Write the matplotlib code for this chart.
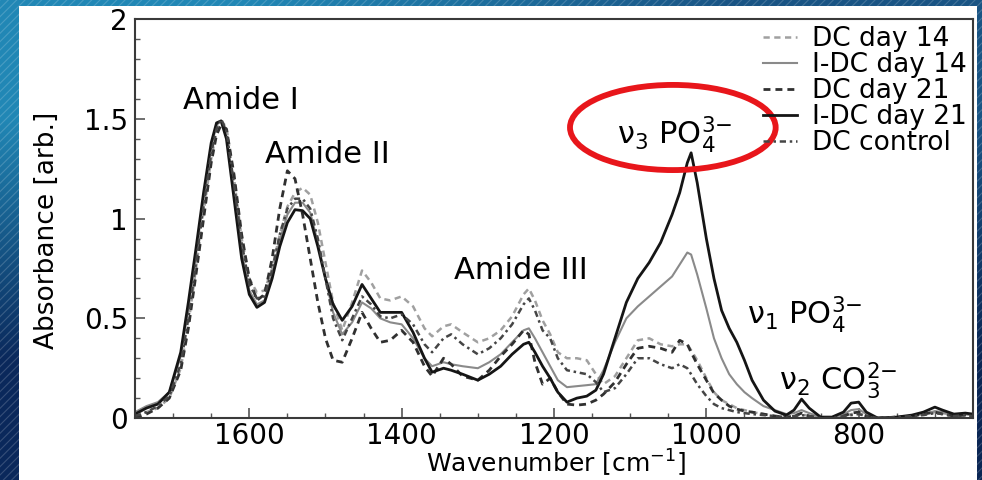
import numpy as np
import matplotlib
matplotlib.use('Agg')
import matplotlib.pyplot as plt
from matplotlib.patches import Ellipse, Rectangle

# wavenumber grid [cm-1] shared by all spectra
wavenumber = [1750, 1735, 1720, 1705, 1690, 1680, 1670, 1660, 1650, 1643, 1637, 1630,
              1620, 1610, 1600, 1590, 1580, 1570, 1560, 1550, 1540, 1530, 1520, 1510,
              1500, 1490, 1478, 1465, 1452, 1440, 1428, 1415, 1400, 1385, 1370, 1360,
              1345, 1335, 1320, 1300, 1285, 1270, 1255, 1240, 1233, 1225, 1215, 1205,
              1195, 1183, 1170, 1157, 1145, 1135, 1120, 1105, 1090, 1075, 1060, 1045,
              1035, 1025, 1020, 1012, 1000, 990, 980, 970, 960, 950, 940, 925,
              910, 895, 885, 875, 865, 850, 835, 820, 810, 800, 790, 775,
              750, 730, 715, 700, 690, 675, 660, 650]

dc_day14 = [0.00, 0.03, 0.05, 0.10, 0.25, 0.47, 0.75, 1.03, 1.30, 1.44, 1.49, 1.46,
            1.20, 0.90, 0.70, 0.63, 0.64, 0.75, 0.92, 1.06, 1.13, 1.155, 1.12, 0.98,
            0.78, 0.58, 0.44, 0.58, 0.74, 0.68, 0.60, 0.59, 0.61, 0.56, 0.45, 0.41,
            0.46, 0.47, 0.43, 0.38, 0.40, 0.44, 0.51, 0.62, 0.65, 0.59, 0.49, 0.42,
            0.33, 0.30, 0.30, 0.29, 0.22, 0.17, 0.21, 0.30, 0.39, 0.40, 0.37, 0.36,
            0.37, 0.37, 0.34, 0.29, 0.20, 0.13, 0.09, 0.07, 0.05, 0.04, 0.03, 0.02,
            0.01, 0.005, 0.01, 0.02, 0.01, 0.0, 0.0, 0.01, 0.02, 0.025, 0.01, 0.0,
            0.005, 0.01, 0.02, 0.03, 0.025, 0.015, 0.02, 0.015]

idc_day14 = [0.03, 0.06, 0.08, 0.13, 0.31, 0.55, 0.82, 1.10, 1.36, 1.47, 1.49, 1.41,
             1.13, 0.84, 0.64, 0.57, 0.59, 0.72, 0.89, 1.02, 1.08, 1.08, 1.03, 0.88,
             0.70, 0.53, 0.42, 0.48, 0.58, 0.55, 0.50, 0.48, 0.47, 0.40, 0.30, 0.26,
             0.28, 0.27, 0.26, 0.25, 0.28, 0.32, 0.38, 0.44, 0.45, 0.40, 0.33, 0.26,
             0.19, 0.155, 0.16, 0.165, 0.17, 0.24, 0.38, 0.50, 0.56, 0.61, 0.66, 0.71,
             0.77, 0.83, 0.82, 0.72, 0.55, 0.40, 0.30, 0.22, 0.17, 0.13, 0.10, 0.06,
             0.04, 0.02, 0.025, 0.04, 0.025, 0.005, 0.005, 0.02, 0.04, 0.045, 0.02, 0.0,
             0.005, 0.01, 0.02, 0.035, 0.03, 0.015, 0.02, 0.015]

dc_day21 = [0.00, 0.02, 0.05, 0.10, 0.24, 0.45, 0.72, 1.00, 1.28, 1.42, 1.47, 1.45,
            1.22, 0.92, 0.70, 0.59, 0.62, 0.80, 1.05, 1.24, 1.20, 1.02, 0.80, 0.58,
            0.40, 0.29, 0.28, 0.40, 0.53, 0.45, 0.38, 0.39, 0.44, 0.38, 0.26, 0.21,
            0.30, 0.27, 0.21, 0.19, 0.24, 0.31, 0.37, 0.44, 0.42, 0.28, 0.17, 0.20,
            0.13, 0.07, 0.065, 0.07, 0.09, 0.12, 0.18, 0.27, 0.35, 0.36, 0.35, 0.33,
            0.39, 0.37, 0.33, 0.27, 0.19, 0.125, 0.09, 0.06, 0.045, 0.035, 0.03, 0.02,
            0.01, 0.005, 0.01, 0.025, 0.01, 0.0, 0.0, 0.01, 0.025, 0.03, 0.01, 0.0,
            0.005, 0.01, 0.02, 0.03, 0.02, 0.01, 0.015, 0.01]

idc_day21 = [0.02, 0.05, 0.07, 0.13, 0.33, 0.58, 0.85, 1.13, 1.38, 1.48, 1.49, 1.40,
             1.10, 0.80, 0.62, 0.555, 0.58, 0.70, 0.86, 0.98, 1.045, 1.04, 1.00, 0.86,
             0.70, 0.57, 0.49, 0.56, 0.67, 0.60, 0.53, 0.53, 0.53, 0.43, 0.30, 0.23,
             0.25, 0.24, 0.22, 0.19, 0.22, 0.26, 0.32, 0.37, 0.38, 0.33, 0.26, 0.20,
             0.13, 0.08, 0.10, 0.11, 0.14, 0.22, 0.40, 0.58, 0.70, 0.78, 0.88, 1.02,
             1.13, 1.28, 1.33, 1.18, 0.90, 0.70, 0.54, 0.45, 0.38, 0.29, 0.19, 0.09,
             0.035, 0.015, 0.04, 0.095, 0.05, 0.005, 0.005, 0.03, 0.075, 0.08, 0.03, 0.0,
             0.005, 0.015, 0.03, 0.055, 0.04, 0.02, 0.025, 0.02]

dc_control = [0.01, 0.03, 0.06, 0.11, 0.27, 0.50, 0.78, 1.06, 1.33, 1.45, 1.50, 1.44,
              1.17, 0.88, 0.67, 0.60, 0.61, 0.74, 0.92, 1.05, 1.10, 1.10, 1.05, 0.90,
              0.70, 0.50, 0.39, 0.50, 0.61, 0.57, 0.51, 0.50, 0.52, 0.47, 0.37, 0.33,
              0.40, 0.42, 0.37, 0.32, 0.35, 0.40, 0.47, 0.57, 0.60, 0.54, 0.44, 0.40,
              0.30, 0.24, 0.23, 0.22, 0.18, 0.13, 0.15, 0.22, 0.30, 0.30, 0.27, 0.25,
              0.27, 0.25, 0.22, 0.17, 0.11, 0.07, 0.05, 0.04, 0.03, 0.025, 0.02, 0.015,
              0.01, 0.005, 0.01, 0.015, 0.01, 0.0, 0.0, 0.01, 0.015, 0.02, 0.01, 0.0,
              0.005, 0.01, 0.015, 0.025, 0.02, 0.01, 0.015, 0.01]

labels = ['DC day 14', 'I-DC day 14', 'DC day 21', 'I-DC day 21', 'DC control']
yticks = [0, 0.5, 1, 1.5, 2]
ytick_labels = ['0', '0.5', '1', '1.5', '2']
xticks = [1600, 1400, 1200, 1000, 800]

plt.rcParams['font.family'] = 'DejaVu Sans'
plt.rcParams['mathtext.fontset'] = 'dejavusans'
plt.rcParams['hatch.linewidth'] = 0.8

fig = plt.figure(figsize=(9.82, 4.8), dpi=100)

# blue patterned frame around the slide picture
bg = fig.add_axes([0, 0, 1, 1], zorder=-10)
grad = np.array([[[0.13, 0.53, 0.71], [0.10, 0.33, 0.52]],
                 [[0.04, 0.16, 0.36], [0.04, 0.15, 0.33]]])
bg.imshow(grad, interpolation='bilinear', aspect='auto', extent=[0, 1, 0, 1])
bg.add_patch(Rectangle((0, 0), 1, 1, facecolor='none', hatch='////',
                       edgecolor=(1, 1, 1, 0.18), lw=0))
bg.add_patch(Rectangle((0.0193, 0), 0.9757, 0.9875, facecolor='white', lw=0))
bg.set_xlim(0, 1)
bg.set_ylim(0, 1)
bg.axis('off')

ax = fig.add_axes([0.1375, 0.129, 0.8533, 0.831])
ax.set_facecolor('white')

styles = [
    dict(color='#a0a0a0', lw=1.8, dashes=(2.5, 1.8)),
    dict(color='#8a8a8a', lw=1.5),
    dict(color='#303030', lw=2.0, dashes=(2.5, 1.8)),
    dict(color='#151515', lw=2.0),
    dict(color='#454545', lw=1.8, dashes=(2.5, 1.5, 1, 1.5)),
]
for ys, lab, st in zip([dc_day14, idc_day14, dc_day21, idc_day21, dc_control], labels, styles):
    ax.plot(wavenumber, ys, label=lab, **st)

ax.set_xlim(1750, 650)
ax.set_ylim(0, 2)
ax.set_xticks(xticks)
ax.set_xticks(np.arange(700, 1751, 50), minor=True)
ax.set_yticks(yticks)
ax.set_yticklabels(ytick_labels)
ax.set_yticks(np.arange(0, 2.01, 0.1), minor=True)
ax.tick_params(which='both', direction='in', color='#555555')
ax.tick_params(which='major', length=7, width=1.2, labelsize=20)
ax.tick_params(axis='x', which='major', pad=3)
ax.tick_params(axis='y', which='major', pad=5)
ax.tick_params(which='minor', length=3.5, width=1.0)
for sp in ax.spines.values():
    sp.set_color('#3a3a3a')
    sp.set_linewidth(1.5)

ax.set_xlabel('Wavenumber [cm$^{-1}$]', fontsize=18)
ax.xaxis.set_label_coords(0.502, -0.153)
ax.xaxis.label.set_va('bottom')
ax.set_ylabel('Absorbance [arb.]', fontsize=19)
ax.yaxis.set_label_coords(-0.09, 0.47)

ax.text(1611, 1.59, 'Amide I', fontsize=22, ha='center', va='center')
ax.text(1497, 1.32, 'Amide II', fontsize=22, ha='center', va='center')
ax.text(1243, 0.74, 'Amide III', fontsize=22, ha='center', va='center')
ax.text(1041, 1.42, 'ν$_3$ PO$_4^{3\\mathsf{-}}$', fontsize=22, ha='center', va='center')
ax.text(871, 0.52, 'ν$_1$ PO$_4^{3\\mathsf{-}}$', fontsize=22, ha='center', va='center')
ax.text(827, 0.19, 'ν$_2$ CO$_3^{2\\mathsf{-}}$', fontsize=22, ha='center', va='center')

ax.add_patch(Ellipse((1044, 1.457), 270, 0.427, fill=False, edgecolor='#e8161b',
                     lw=4.2, clip_on=False, zorder=5))

leg = ax.legend(loc='upper right', bbox_to_anchor=(1.0, 1.0), frameon=False,
                fontsize=19, handlelength=1.3, handletextpad=0.55, labelspacing=0.0,
                borderaxespad=0.1, borderpad=0.15)

fig.savefig('out.png', dpi=100)
